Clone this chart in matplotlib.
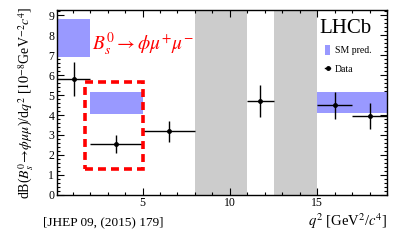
import matplotlib
matplotlib.use("Agg")
import matplotlib.pyplot as plt
from matplotlib.patches import Rectangle, Patch
from matplotlib.lines import Line2D
from matplotlib.ticker import MultipleLocator, FixedLocator

plt.rcParams['font.family'] = ['Liberation Serif', 'DejaVu Serif']
plt.rcParams['mathtext.fontset'] = 'stix'

# Data points (LHCb measurement)
bin_lo = [0.1, 2.0, 5.0, 11.0, 15.0, 17.0]
bin_hi = [2.0, 5.0, 8.0, 12.5, 17.0, 19.0]
data_val = [5.82, 2.55, 3.19, 4.71, 4.48, 3.94]
data_err = [0.86, 0.46, 0.52, 0.80, 0.67, 0.65]

# SM prediction bands
sm_lo = [0.1, 2.0, 15.0]
sm_hi = [2.0, 5.0, 19.0]
sm_min = [6.92, 4.05, 4.08]
sm_max = [8.82, 5.15, 5.13]

# Vetoed regions (charmonium)
veto_lo = [8.0, 12.5]
veto_hi = [11.0, 15.0]

# Highlight box
box_x = [1.7, 5.02]
box_y = [1.27, 5.65]

fig = plt.figure(figsize=(4.08, 2.48), dpi=100)
ax = fig.add_axes([57/408, 1-194.7/248, 330/408, 184.7/248])

for lo, hi in zip(veto_lo, veto_hi):
    ax.axvspan(lo, hi, color='#cccccc', lw=0, zorder=1)

for lo, hi, a, b in zip(sm_lo, sm_hi, sm_min, sm_max):
    ax.add_patch(Rectangle((lo, a), hi - lo, b - a, facecolor='#9999ff',
                           edgecolor='none', zorder=2))

xc = [(l + h) / 2 for l, h in zip(bin_lo, bin_hi)]
xe = [(h - l) / 2 for l, h in zip(bin_lo, bin_hi)]
ax.errorbar(xc, data_val, yerr=data_err, xerr=xe, fmt='o', color='black',
            ms=2.5, lw=1.0, capsize=0, zorder=4)

ax.add_patch(Rectangle((box_x[0], box_y[0]), box_x[1] - box_x[0], box_y[1] - box_y[0],
                       fill=False, edgecolor='#ff0000', lw=2.6,
                       linestyle=(0, (2.2, 1.4)), zorder=5))

ax.set_xlim(0.1, 19)
ax.set_ylim(0, 9.27)
ax.xaxis.set_major_locator(FixedLocator([5, 10, 15]))
ax.xaxis.set_minor_locator(MultipleLocator(1))
ax.yaxis.set_major_locator(MultipleLocator(1))
ax.yaxis.set_minor_locator(MultipleLocator(0.2))
ax.tick_params(which='both', direction='in', top=True, right=True, labelsize=8.5, width=0.8)
ax.tick_params(which='major', length=5, pad=2)
ax.tick_params(which='minor', length=2.5)
for s in ax.spines.values():
    s.set_linewidth(1.0)

fig.text(26/408, 1-103/248,
         r'dB($B_s^0\!\rightarrow\!\phi\mu\mu$)/d$q^2$ [$10^{-8}$GeV$^{-2}c^4$]',
         rotation=90, ha='center', va='center', fontsize=10)

fig.text(387/408, 1-221/248, r'$q^2$ [GeV$^2$/$c^4$]', ha='right', va='center', fontsize=10.5)
fig.text(43/408, 1-222/248, '[JHEP 09, (2015) 179]', ha='left', va='center', fontsize=9.5)

ax.text(0.795, 0.9, 'LHCb', transform=ax.transAxes, fontsize=15, va='center', ha='left')
ax.text(0.105, 0.815, r'$B_s^0\rightarrow\phi\mu^{+}\mu^{-}$', transform=ax.transAxes,
        fontsize=14, color='#ff0000', va='center', ha='left')

handles = [Patch(facecolor='#9999ff', edgecolor='none'),
           Line2D([], [], color='black', marker='o', ms=2.5, lw=1.0)]
ax.legend(handles, ['SM pred.', 'Data'], loc='upper left', bbox_to_anchor=(0.8, 0.83),
          frameon=False, fontsize=7, handlelength=0.55, handleheight=1.1,
          handletextpad=0.5, labelspacing=0.9, borderaxespad=0)

fig.savefig('out.png', dpi=100)
